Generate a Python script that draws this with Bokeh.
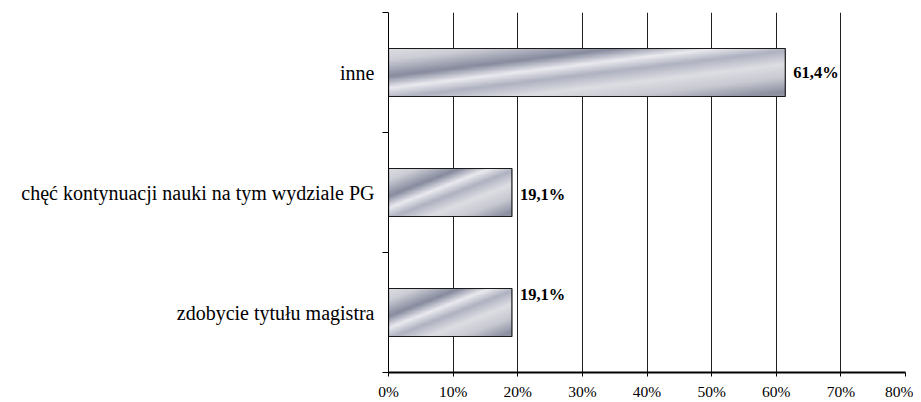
import numpy as np
from bokeh.plotting import figure
from bokeh.models import ColumnDataSource, Range1d, FixedTicker, NumeralTickFormatter
from bokeh.core.properties import value
from bokeh.embed import file_html
from bokeh.resources import INLINE

# ---- data ----
categories = ["zdobycie tytułu magistra",
              "chęć kontynuacji nauki na tym wydziale PG",
              "inne"]
percent = [19.1, 19.1, 61.4]
x_ticks = [0, 10, 20, 30, 40, 50, 60, 70, 80]

# ---- derived ----
vals = [v / 100.0 for v in percent]
centers = [i + 0.5 for i in range(len(categories))]
labels = [f"{v:.1f}".replace(".", ",") + "%" for v in percent]
bar_h = 0.4
label_dy = [-18, 2, 0]  # styling: vertical pixel offsets of value labels

FONT = "Liberation Serif"

# metallic diagonal gradient (style only)
H, W = 60, 400
u = (np.arange(W) + 0.5) / W
vtop = 1.0 - (np.arange(H) + 0.5) / H
U, V = np.meshgrid(u, vtop)
T = (U + V) / 2.0
stops = [0.0, 0.12, 0.29, 0.41, 0.52, 0.66, 0.80, 0.95, 1.0]
R = [222, 205, 135, 235, 175, 222, 200, 140, 150]
G = [222, 206, 139, 235, 178, 222, 201, 144, 153]
B = [228, 214, 158, 240, 192, 228, 210, 160, 168]
r = np.interp(T, stops, R).astype(np.uint32)
g = np.interp(T, stops, G).astype(np.uint32)
b = np.interp(T, stops, B).astype(np.uint32)
img = (255 << 24) | (b << 16) | (g << 8) | r
img = img.astype(np.uint32)

p = figure(width=913, height=402, output_backend="svg", toolbar_location=None,
           x_range=Range1d(0, 0.8), y_range=Range1d(0, len(categories)),
           min_border_left=388, min_border_right=8, min_border_top=12, min_border_bottom=0)
p.outline_line_color = None
p.background_fill_color = "white"

src = ColumnDataSource(dict(
    y=centers, bottom=[c - bar_h / 2 for c in centers], right=vals,
    label=labels, dy=label_dy, cat=categories,
    image=[img for _ in vals], x0=[0] * len(vals), dh=[bar_h] * len(vals)))

p.image_rgba(image="image", x="x0", y="bottom", dw="right", dh="dh", source=src)
p.hbar(y="y", left=0, right="right", height=bar_h, source=src,
       fill_alpha=0, line_color="#1a1a1a", line_width=1.2)
p.text(x="right", y="y", text="label", source=src, x_offset=8, y_offset="dy",
       text_baseline="middle", text_align="left",
       text_font=value(FONT), text_font_style="bold", text_font_size="16.5px",
       text_color="black")

# x axis
p.xaxis.ticker = FixedTicker(ticks=[t / 100.0 for t in x_ticks])
p.xaxis.formatter = NumeralTickFormatter(format="0%")
p.xaxis.axis_line_width = 2
p.xaxis.axis_line_color = "black"
p.xaxis.major_tick_out = 4
p.xaxis.major_tick_in = 0
p.xaxis.minor_tick_out = 0
p.xaxis.minor_tick_in = 0
p.xaxis.major_tick_line_color = "black"
p.xaxis.major_label_standoff = 6
p.xaxis.major_label_text_font = FONT
p.xaxis.major_label_text_font_size = "15.5px"
p.xaxis.major_label_text_color = "black"

# y axis
p.yaxis.ticker = FixedTicker(ticks=centers, minor_ticks=list(range(len(categories) + 1)))
p.yaxis.major_label_overrides = {c: cat for c, cat in zip(centers, categories)}
p.yaxis.axis_line_color = "black"
p.yaxis.axis_line_width = 1
p.yaxis.major_tick_out = 0
p.yaxis.major_tick_in = 0
p.yaxis.minor_tick_out = 6
p.yaxis.minor_tick_in = 0
p.yaxis.minor_tick_line_color = "black"
p.yaxis.major_label_standoff = 8
p.yaxis.major_label_text_font = FONT
p.yaxis.major_label_text_font_size = "20px"
p.yaxis.major_label_text_color = "black"

# grid
p.xgrid.ticker = FixedTicker(ticks=[t / 100.0 for t in x_ticks])
p.xgrid.grid_line_color = "#202020"
p.xgrid.grid_line_width = 1
p.ygrid.visible = False

open("out.html", "w").write(file_html(p, INLINE))
